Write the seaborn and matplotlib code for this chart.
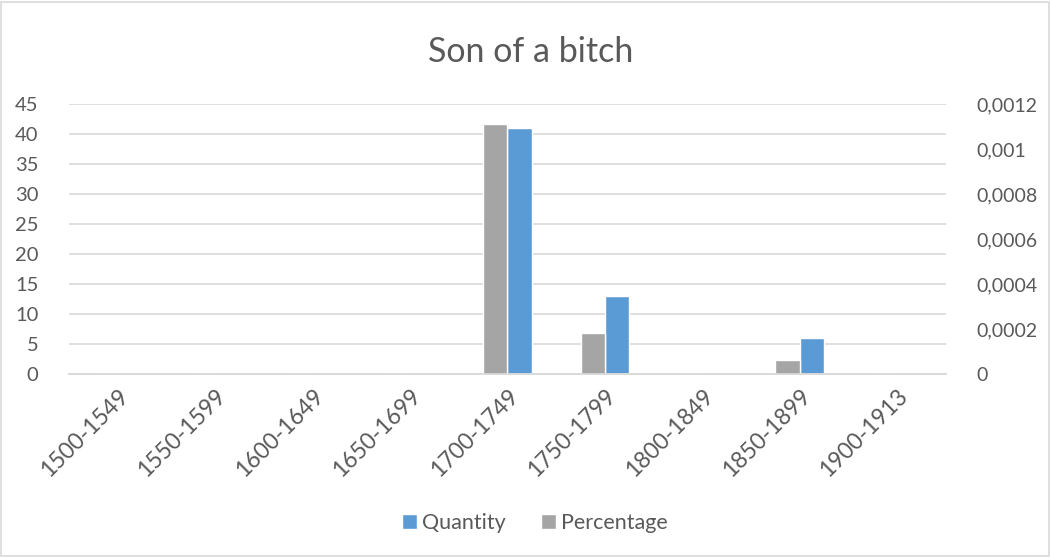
import matplotlib
matplotlib.use("Agg")
import matplotlib.pyplot as plt
from matplotlib.patches import Patch, Rectangle
from matplotlib.ticker import FuncFormatter, MultipleLocator
import pandas as pd
import seaborn as sns

periods = ["1500-1549", "1550-1599", "1600-1649", "1650-1699", "1700-1749",
           "1750-1799", "1800-1849", "1850-1899", "1900-1913"]
quantity = [0, 0, 0, 0, 41, 13, 0, 6, 0]
percentage = [0, 0, 0, 0, 0.00111, 0.000184, 0, 0.0000636, 0]

BLUE = "#5B9BD5"
GRAY = "#A5A5A5"
TEXT = "#595959"
GRID = "#D9D9D9"

sns.set_theme(style="white")
plt.rcParams["font.family"] = ["Lato", "DejaVu Sans"]

hue_order = ["Percentage", "Quantity"]
palette = {"Percentage": GRAY, "Quantity": BLUE}

q_df = pd.DataFrame({"period": periods, "value": quantity, "series": "Quantity"})
p_df = pd.DataFrame({"period": periods, "value": percentage, "series": "Percentage"})
# Each axis carries both series so the dodge slots line up; the other series is empty.
q_long = pd.concat([q_df, p_df.assign(value=float("nan"))], ignore_index=True)
p_long = pd.concat([p_df, q_df.assign(value=float("nan"))], ignore_index=True)

fig = plt.figure(figsize=(10.51, 5.57), dpi=100)
fig.patches.append(Rectangle((0.001, 0.002), 0.997, 0.995, transform=fig.transFigure,
                             fill=False, edgecolor=GRID, linewidth=1.2))
ax = fig.add_axes([0.0657, 0.3285, 0.8343, 0.4848])
ax2 = ax.twinx()

sns.barplot(data=q_long, x="period", y="value", hue="series", order=periods,
            hue_order=hue_order, palette=palette, width=0.5, gap=0, dodge=True,
            saturation=1, errorbar=None, legend=False, ax=ax)
sns.barplot(data=p_long, x="period", y="value", hue="series", order=periods,
            hue_order=hue_order, palette=palette, width=0.5, gap=0, dodge=True,
            saturation=1, errorbar=None, legend=False, ax=ax2)

ax.set_xlim(-0.5, len(periods) - 0.5)
ax.set_ylim(0, 45)
ax.yaxis.set_major_locator(MultipleLocator(5))
ax2.set_ylim(0, 0.0012)
ax2.yaxis.set_major_locator(MultipleLocator(0.0002))


def comma_fmt(v, pos):
    s = f"{v:.4f}".rstrip("0").rstrip(".")
    return s.replace(".", ",")


ax2.yaxis.set_major_formatter(FuncFormatter(comma_fmt))

ax.grid(axis="y", color=GRID, linewidth=1.2)
ax.set_axisbelow(True)
for a in (ax, ax2):
    for side in ("top", "left", "right"):
        a.spines[side].set_visible(False)
    a.spines["bottom"].set_color(GRID)
    a.spines["bottom"].set_linewidth(1.2)
    a.set_xlabel("")
    a.set_ylabel("")
    a.tick_params(length=0, labelcolor=TEXT, labelsize=14.5)

ax.tick_params(axis="y", pad=22)
ax2.tick_params(axis="y", pad=22, labelsize=14)
ax.tick_params(axis="x", pad=8, labelsize=16.5)
plt.setp(ax.get_xticklabels(), rotation=45, ha="right", rotation_mode="anchor")

fig.suptitle("Son of a bitch", x=0.505, y=0.935, fontsize=24.5, color=TEXT)

handles = [Patch(facecolor=BLUE, label="Quantity"),
           Patch(facecolor=GRAY, label="Percentage")]
fig.legend(handles=handles, loc="center", bbox_to_anchor=(0.509, 0.061), ncol=2,
           frameon=False, fontsize=15.5, labelcolor=TEXT, handlelength=0.7,
           handleheight=0.7, handletextpad=0.25, columnspacing=1.6)

fig.savefig("out.png", dpi=100)
